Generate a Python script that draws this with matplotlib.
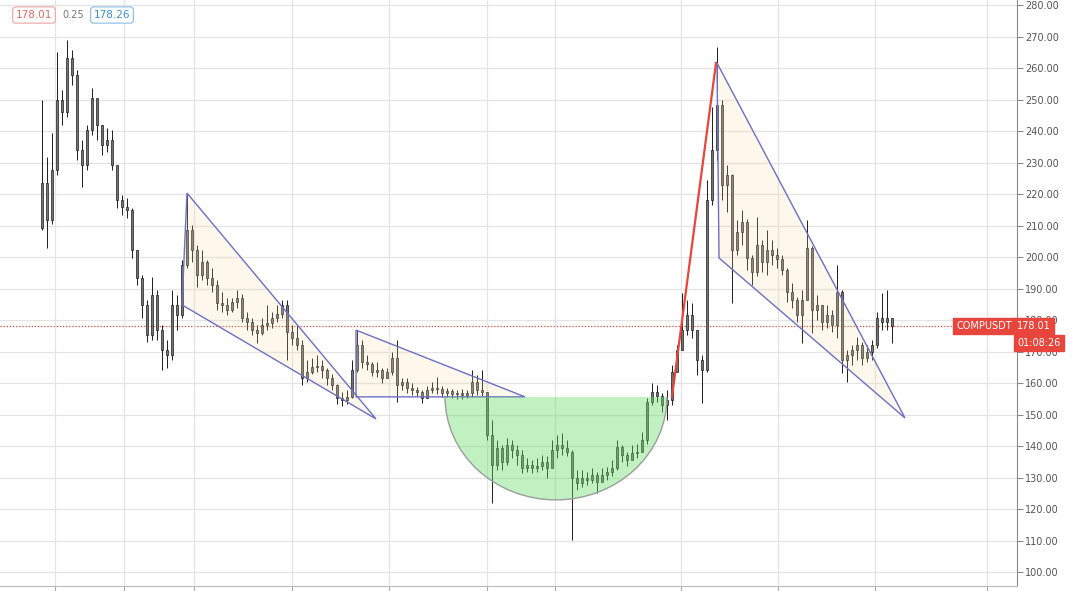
'''
COMPUSDT candles with the drawn patterns (wedges, cup, breakout line)
'''

import numpy as np
import matplotlib.pyplot as plt
from matplotlib.patches import Polygon, Ellipse, Rectangle

# Candle data (one candle per slot)
FIRST_OPEN = 209.2
CLOSE = [223.5, 211.7, 227.6, 249.8, 246.0, 263.2, 257.8, 234.0, 229.2, 240.3,
         250.5, 241.9, 235.6, 237.1, 229.2, 218.1, 215.9, 214.9, 202.2, 193.3,
         184.8, 175.2, 187.9, 176.8, 170.5, 168.9, 184.8, 181.6, 197.5, 208.6,
         202.2, 194.3, 198.4, 193.3, 191.1, 185.4, 184.8, 183.2, 185.7, 187.0,
         180.6, 179.4, 176.8, 175.9, 178.4, 179.0, 180.6, 181.9, 184.8, 176.2,
         174.3, 172.1, 161.6, 163.5, 165.1, 165.4, 164.1, 161.6, 159.4, 155.2,
         154.6, 155.6, 164.1, 172.1, 166.7, 165.9, 163.5, 164.1, 161.6, 163.5,
         167.9, 159.4, 160.2, 158.4, 157.8, 157.1, 155.2, 157.8, 158.4, 158.1,
         156.8, 157.4, 156.5, 156.9, 156.3, 156.8, 160.3, 157.8, 157.1, 143.5,
         134.0, 139.4, 134.9, 140.3, 138.7, 137.1, 133.0, 134.0, 133.0, 133.6,
         134.9, 133.0, 138.7, 140.3, 139.4, 138.1, 129.8, 128.3, 129.8, 129.2,
         130.8, 128.6, 130.8, 131.6, 133.0, 139.7, 137.1, 135.6, 137.8, 138.1,
         141.9, 154.0, 157.1, 155.9, 153.0, 154.6, 163.5, 170.5, 176.8, 181.6,
         176.8, 167.3, 164.1, 218.1, 234.0, 248.3, 222.9, 226.0, 202.2, 207.9,
         211.1, 199.7, 195.2, 203.8, 198.4, 202.2, 200.6, 199.4, 195.9, 188.9,
         186.3, 181.6, 186.3, 202.9, 183.2, 184.8, 179.4, 181.6, 178.4, 188.9,
         167.3, 168.9, 170.5, 172.1, 167.9, 169.8, 172.1, 180.6, 179.4, 180.6,
         178.01]
HIGH = [249.8, 231.7, 239.4, 265.1, 253.0, 268.9, 265.7, 259.4, 237.1, 241.9,
        253.6, 248.3, 241.9, 241.0, 240.3, 229.2, 219.7, 218.7, 215.6, 202.2,
        194.3, 186.3, 193.6, 189.5, 178.4, 173.6, 189.5, 187.9, 199.0, 220.3,
        210.2, 203.8, 202.2, 199.0, 196.5, 192.7, 188.9, 187.0, 187.0, 189.5,
        188.3, 182.5, 180.6, 178.4, 180.6, 184.8, 182.5, 184.8, 186.3, 186.3,
        178.4, 178.4, 173.6, 167.3, 167.9, 168.9, 167.3, 164.8, 162.9, 159.7,
        157.1, 157.8, 167.3, 176.8, 173.6, 168.9, 166.7, 166.7, 164.8, 164.8,
        169.8, 173.6, 161.6, 161.6, 160.0, 158.7, 157.8, 159.0, 160.3, 161.9,
        159.0, 158.4, 158.1, 157.8, 158.1, 157.8, 164.1, 162.5, 164.1, 157.1,
        148.3, 141.9, 140.3, 142.5, 141.9, 140.3, 138.7, 136.2, 135.6, 136.2,
        137.1, 136.8, 141.9, 143.5, 144.1, 141.9, 138.7, 132.4, 132.4, 131.7,
        133.0, 131.7, 133.0, 133.3, 135.6, 141.9, 140.3, 138.1, 140.3, 140.6,
        144.4, 155.2, 160.0, 159.4, 156.8, 157.8, 165.7, 172.1, 188.6, 186.3,
        185.4, 176.8, 168.9, 224.4, 247.6, 266.7, 249.8, 229.2, 226.5, 211.7,
        214.9, 212.0, 200.6, 212.7, 205.4, 208.6, 205.4, 202.9, 200.6, 196.5,
        191.7, 187.3, 189.5, 211.7, 203.5, 187.9, 184.8, 184.8, 183.2, 197.5,
        189.5, 170.5, 172.1, 174.6, 173.0, 172.1, 173.6, 182.5, 188.6, 189.5,
        180.6]
LOW = [208.6, 202.9, 210.5, 226.0, 241.9, 244.5, 254.6, 230.8, 222.2, 227.6,
       238.7, 237.1, 232.4, 233.3, 227.6, 215.6, 213.3, 212.4, 199.7, 191.1,
       180.6, 173.0, 173.6, 173.6, 164.1, 164.8, 167.3, 176.8, 180.6, 196.5,
       198.4, 190.5, 192.7, 191.1, 188.9, 183.2, 182.5, 181.6, 182.5, 183.8,
       179.4, 176.8, 175.2, 172.7, 175.2, 176.8, 177.5, 179.4, 180.6, 167.3,
       172.1, 170.5, 159.4, 160.3, 162.9, 163.5, 161.6, 159.4, 157.8, 153.3,
       152.7, 153.3, 155.2, 163.5, 164.8, 164.1, 162.2, 161.9, 160.0, 161.6,
       162.5, 154.0, 157.8, 156.8, 156.2, 155.9, 153.6, 155.2, 156.8, 156.5,
       155.6, 155.6, 155.2, 154.9, 154.9, 155.2, 155.6, 156.2, 155.9, 141.9,
       121.9, 132.4, 132.4, 134.0, 136.2, 134.0, 131.4, 131.7, 131.4, 131.7,
       132.4, 129.8, 133.0, 136.2, 137.1, 136.8, 110.2, 126.0, 127.0, 127.6,
       128.3, 125.1, 129.2, 129.2, 130.5, 132.4, 134.9, 133.6, 135.6, 136.2,
       138.1, 140.5, 153.0, 154.0, 150.8, 148.3, 153.0, 163.5, 170.5, 175.2,
       174.3, 162.5, 153.6, 163.5, 216.5, 230.8, 218.1, 214.3, 185.4, 200.6,
       203.8, 195.9, 191.1, 194.0, 195.2, 194.3, 197.5, 196.5, 194.3, 185.7,
       183.8, 179.4, 172.7, 186.3, 175.9, 180.0, 176.8, 177.5, 176.2, 174.3,
       163.2, 160.3, 165.7, 167.3, 165.7, 166.7, 167.3, 171.1, 176.8, 176.8,
       172.7]

LAST_PRICE = 178.01
Y_TICKS = list(range(100, 290, 10))
GRID_X = [2.6, 16.4, 30.4, 50.0, 69.4, 89.0, 102.6, 127.8, 147.2, 166.6, 189.0]

# Drawings (x = candle slot, y = price)
WEDGE_1 = [(29.0, 220.3), (66.8, 148.6), (28.0, 184.8)]
WEDGE_2 = [(62.8, 176.8), (96.6, 155.6), (62.8, 155.6)]
WEDGE_3 = [(135.0, 261.6), (172.6, 148.9), (135.4, 199.7)]
BREAKOUT = [(126.0, 155.6), (134.8, 261.6)]
CUP_LEFT, CUP_RIGHT, CUP_TOP, CUP_BOTTOM = 80.6, 125.0, 155.6, 122.9

BLUE = '#6c70c6'
RED = '#e8453c'


def main():
    fig = plt.figure(figsize=(10.8, 5.91), dpi=100)
    ax = fig.add_axes([0, 5 / 591, 1017 / 1080, 586 / 591])

    closes = np.array(CLOSE)
    opens = np.array([FIRST_OPEN] + CLOSE[:-1])
    idx = np.arange(len(closes))

    # candles
    ax.vlines(idx, LOW, HIGH, color='#1c1c1c', lw=0.7, zorder=2)
    bottoms = np.minimum(opens, closes)
    heights = np.maximum(np.abs(closes - opens), 0.35)
    ax.bar(idx, heights, bottom=bottoms, width=0.5, color='#747474',
           edgecolor='#1c1c1c', linewidth=0.5, zorder=3)

    # wedges
    for pts in (WEDGE_1, WEDGE_2, WEDGE_3):
        ax.add_patch(Polygon(pts, closed=True, facecolor=(0.96, 0.85, 0.63, 0.2),
                             edgecolor=BLUE, lw=1.0, zorder=4))

    # cup
    cx = (CUP_LEFT + CUP_RIGHT) / 2
    cup = Ellipse((cx, CUP_TOP), CUP_RIGHT - CUP_LEFT, 2 * (CUP_TOP - CUP_BOTTOM),
                  facecolor=(0.4, 0.87, 0.4, 0.4), edgecolor='#9c9c9c', lw=1.0, zorder=4)
    ax.add_patch(cup)
    clip = Rectangle((CUP_LEFT - 5, 80), CUP_RIGHT - CUP_LEFT + 10, CUP_TOP - 80,
                     transform=ax.transData)
    cup.set_clip_path(clip)

    # breakout line
    ax.plot([p[0] for p in BREAKOUT], [p[1] for p in BREAKOUT], color=RED, lw=1.6, zorder=5)

    # last price line
    ax.axhline(LAST_PRICE, color=RED, lw=0.9, ls=(0, (1, 1.5)), zorder=1)

    # axes
    ax.set_xlim(-8.4, 195)
    ax.set_ylim(95.56, 281.59)
    ax.set_yticks(Y_TICKS)
    ax.set_yticklabels([f'{v:.2f}' for v in Y_TICKS])
    ax.set_xticks(GRID_X)
    ax.set_xticklabels([])
    ax.yaxis.tick_right()
    ax.tick_params(axis='y', direction='out', length=4, width=0.8, color='#888888',
                   labelsize=7, labelcolor='#555555', pad=2)
    ax.tick_params(axis='x', direction='out', length=4, width=0.8, color='#aaaaaa')
    ax.grid(True, color='#e4e4e4', lw=0.9, zorder=0)
    for side in ('top', 'left'):
        ax.spines[side].set_visible(False)
    ax.spines['right'].set_color('#8a8a8a')
    ax.spines['bottom'].set_color('#bbbbbb')

    # price labels on the axis
    ax.text(1.0, LAST_PRICE, f'{LAST_PRICE:.2f}', transform=ax.get_yaxis_transform(),
            ha='left', va='center', fontsize=7, color='white', zorder=10, clip_on=False,
            bbox=dict(boxstyle='square,pad=0.3', fc=RED, ec=RED))
    ax.text(1.0, LAST_PRICE - 5.3, '01:08:26', transform=ax.get_yaxis_transform(),
            ha='left', va='center', fontsize=7, color='white', zorder=10, clip_on=False,
            bbox=dict(boxstyle='square,pad=0.35', fc=RED, ec=RED))
    ax.text(0.995, LAST_PRICE, 'COMPUSDT', transform=ax.get_yaxis_transform(),
            ha='right', va='center', fontsize=7, color='white', zorder=10,
            bbox=dict(boxstyle='square,pad=0.3', fc=RED, ec=RED))

    # top left bid/ask
    fig.text(34 / 1080, 1 - 15 / 591, '178.01', ha='center', va='center', fontsize=7.5,
             color='#e06a62', bbox=dict(boxstyle='round,pad=0.3', fc='white', ec='#eaa6a0', lw=0.8))
    fig.text(73 / 1080, 1 - 15 / 591, '0.25', ha='center', va='center', fontsize=7,
             color='#777777')
    fig.text(112 / 1080, 1 - 15 / 591, '178.26', ha='center', va='center', fontsize=7.5,
             color='#3b8fd4', bbox=dict(boxstyle='round,pad=0.3', fc='white', ec='#86bbe6', lw=0.8))

    plt.savefig('out.png', dpi=100)
    plt.close()


if __name__ == '__main__':
    main()
